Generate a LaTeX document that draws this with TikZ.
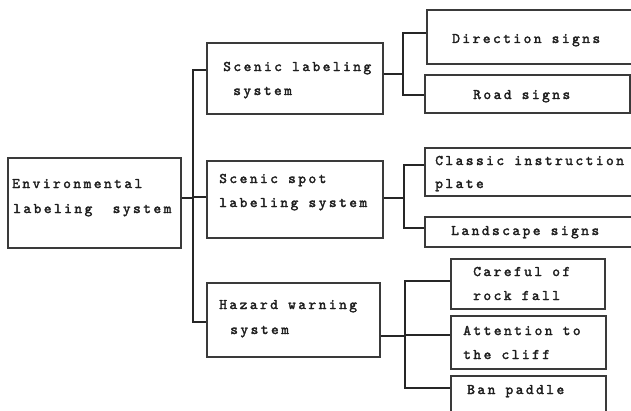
\documentclass[tikz,border=0pt]{standalone}
\usepackage{fontspec}
\usetikzlibrary{fit}
\newfontfamily\lblfont{Latin Modern Mono}[LetterSpace=17, AutoFakeBold=2.2]
\definecolor{boxcol}{HTML}{3A3A3A}
\definecolor{txtcol}{HTML}{1E1E1E}
\tikzset{
  boxnode/.style={draw=boxcol, line width=1.1pt, inner sep=0pt, fill=none},
  txt/.style={anchor=base west, inner sep=0pt, text=txtcol, font=\lblfont\bfseries\fontsize{11}{12}\selectfont},
  conn/.style={draw=black!85, line width=0.9pt},
}
\begin{document}
\begin{tikzpicture}[x=0.75pt,y=-0.75pt]
\useasboundingbox (0,0) rectangle (631,410);
\clip (0,0) rectangle (631,410);
% boxes
\node[boxnode, fit={(8,158) (181,248)}] (root) {};
\node[boxnode, fit={(207,43) (383,114)}] (b1) {};
\node[boxnode, fit={(207,161) (383,238)}] (b2) {};
\node[boxnode, fit={(207,283) (380,357)}] (b3) {};
\node[boxnode, fit={(427,10) (640,64)}] (l1) {};
\node[boxnode, fit={(425,75) (630,113)}] (l2) {};
\node[boxnode, fit={(425,148) (640,196)}] (l3) {};
\node[boxnode, fit={(425,217) (640,247)}] (l4) {};
\node[boxnode, fit={(451,259) (605,309)}] (l5) {};
\node[boxnode, fit={(451,316) (606,369)}] (l6) {};
\node[boxnode, fit={(451,376) (606,420)}] (l7) {};
% texts
\node[txt] (t0a) at (12,188) {Environmental};
\node[txt] (t0b) at (13,213) {labeling\ \ system};
\node[txt] (t1a) at (223,71) {Scenic labeling};
\node[txt] (t1b) at (233,95) {system};
\node[txt] (t2a) at (219,183) {Scenic spot};
\node[txt] (t2b) at (219,207) {labeling system};
\node[txt] (t3a) at (219,309) {Hazard warning};
\node[txt] (t3b) at (230,334) {system};
\node[txt] (u1) at (452,43) {Direction signs};
\node[txt] (u2) at (473,99) {Road signs};
\node[txt] (u3a) at (435,165) {Classic instruction};
\node[txt] (u3b) at (435,188) {plate};
\node[txt] (u4) at (451,235) {Landscape signs};
\node[txt] (u5a) at (473,276) {Careful of};
\node[txt] (u5b) at (473,300) {rock fall};
\node[txt] (u6a) at (463,335) {Attention to};
\node[txt] (u6b) at (463,359) {the cliff};
\node[txt] (u7) at (467,394) {Ban paddle};
% junction coordinates
\coordinate (r0) at (193,198);
\coordinate (ra) at (193,70);
\coordinate (rb) at (193,197);
\coordinate (rc) at (193,322);
\coordinate (s1) at (403,74);
\coordinate (s1a) at (403,33);
\coordinate (s1b) at (403,95);
\coordinate (s2) at (404,198);
\coordinate (s2a) at (404,165);
\coordinate (s2b) at (404,228);
\coordinate (s3) at (405,336);
\coordinate (s3a) at (405,281);
\coordinate (s3b) at (405,335);
\coordinate (s3c) at (405,388);
% connectors
\draw[conn] (root.east |- r0) -- (r0);
\draw[conn] (ra -| b1.west) -- (ra) -- (rc) -- (rc -| b3.west);
\draw[conn] (rb) -- (rb -| b2.west);
\draw[conn] (b1.east |- s1) -- (s1);
\draw[conn] (s1a -| l1.west) -- (s1a) -- (s1b) -- (s1b -| l2.west);
\draw[conn] (b2.east |- s2) -- (s2);
\draw[conn] (s2a -| l3.west) -- (s2a) -- (s2b) -- (s2b -| l4.west);
\draw[conn] (b3.east |- s3) -- (s3);
\draw[conn] (s3a -| l5.west) -- (s3a) -- (s3c) -- (s3c -| l7.west);
\draw[conn] (s3b) -- (s3b -| l6.west);
\end{tikzpicture}
\end{document}
